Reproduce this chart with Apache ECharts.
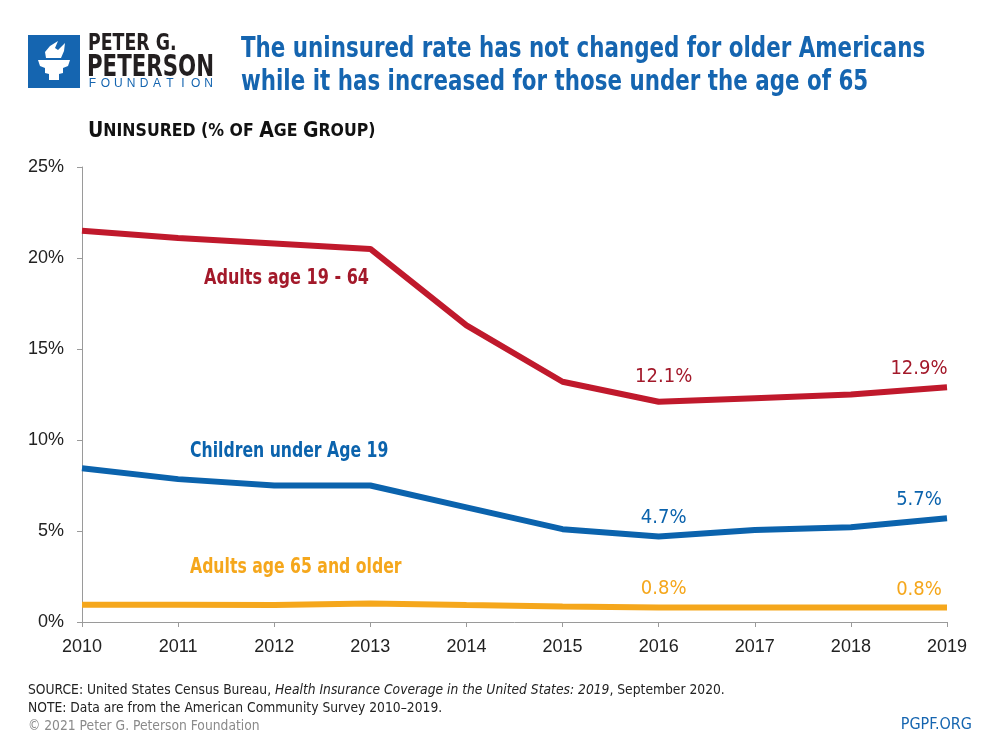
<!DOCTYPE html>
<html><head><meta charset="utf-8">
<script src="https://cdn.jsdelivr.net/npm/echarts@6/dist/echarts.min.js"></script>
<style>html,body{margin:0;padding:0;background:#fff}#c{width:1000px;height:750px}</style>
</head><body><div id="c"></div>
<script>
const years = ['2010','2011','2012','2013','2014','2015','2016','2017','2018','2019'];
const adults1964 = [21.5, 21.1, 20.8, 20.5, 16.3, 13.2, 12.1, 12.3, 12.5, 12.9];
const children = [8.45, 7.85, 7.5, 7.5, 6.3, 5.1, 4.7, 5.05, 5.2, 5.7];
const adults65 = [0.95, 0.95, 0.93, 1.02, 0.93, 0.85, 0.8, 0.8, 0.8, 0.8];
const labelIdx = [6, 9];
const yTicks = [0, 5, 10, 15, 20, 25];

const COND = '"DejaVu Sans Condensed", "Liberation Sans Narrow", sans-serif';
const RED = '#c0192c', RED_T = '#a3192a', BLUE = '#0b63ad', ORANGE = '#f5a71c';

function valueLabel(color) {
  return {
    show: true,
    formatter: p => labelIdx.includes(p.dataIndex) ? p.value.toFixed(1) + '%' : '',
    position: 'top',
    distance: 9,
    color: color,
    fontFamily: COND,
    fontSize: 20,
  };
}
function mkData(arr, midLift) {
  return arr.map((v, i) => {
    if (i === arr.length - 1) return { value: v, label: { offset: [-28, 1] } };
    if (i === labelIdx[0]) return { value: v, label: { offset: [5, -(midLift || 0)] } };
    return v;
  });
}
function lineSeries(name, arr, color, tcolor, midLift) {
  return { name: name, type: 'line', data: mkData(arr, midLift), showSymbol: true, symbol: 'circle', symbolSize: 0,
    lineStyle: { color: color, width: 6 }, itemStyle: { color: color }, label: valueLabel(tcolor),
    emphasis: { disabled: true } };
}
function ctext(x, y, text, fill, font, sx) {
  return { type: 'text', x: x, y: y, scaleX: sx || 1, style: { text: text, fill: fill, font: font, align: 'left', verticalAlign: 'top' } };
}

const foundation = 'FOUNDATION'.split('').map((ch, i) =>
  ({ type: 'text', x: 92.5 + i * 12.9, y: 78, style: { text: ch, fill: '#1565b0', font: '12px "Liberation Sans", sans-serif', align: 'center', verticalAlign: 'top' } }));

const chart = echarts.init(document.getElementById('c'));
chart.setOption({
  animation: false,
  grid: { left: 82, right: 53, top: 167, bottom: 128 },
  xAxis: {
    type: 'category', data: years, boundaryGap: false,
    axisLine: { lineStyle: { color: '#9a9a9a', width: 1 } },
    axisTick: { show: true, length: 5, lineStyle: { color: '#9a9a9a' } },
    axisLabel: { color: '#222', fontSize: 18, fontFamily: '"Liberation Sans", Arial, sans-serif', margin: 16 },
    splitLine: { show: false }
  },
  yAxis: {
    type: 'value', min: yTicks[0], max: yTicks[yTicks.length - 1], interval: 5,
    axisLine: { show: true, lineStyle: { color: '#9a9a9a', width: 1 } },
    axisTick: { show: true, length: 5, lineStyle: { color: '#9a9a9a' } },
    axisLabel: { color: '#222', fontSize: 18, fontFamily: '"Liberation Sans", Arial, sans-serif', margin: 18, formatter: v => v + '%' },
    splitLine: { show: false }
  },
  series: [
    lineSeries('Adults age 19 - 64', adults1964, RED, RED_T, 6),
    lineSeries('Children under Age 19', children, BLUE, BLUE, 0),
    lineSeries('Adults age 65 and older', adults65, ORANGE, ORANGE, 0)
  ],
  graphic: [
    // logo
    { type: 'rect', shape: { x: 28, y: 35, width: 52, height: 53 }, style: { fill: '#1565b0' } },
    { type: 'polygon', shape: { points: [[38,60],[70,60],[68,66],[63,68],[63,73],[59,74],[59,80],[49,80],[49,74],[45,73],[45,68],[40,66]] }, style: { fill: '#fff' } },
    { type: 'polygon', shape: { points: [[46,58],[45,52],[50,46],[58,41],[55,48],[58,50],[65,43],[64,51],[61,58]] }, style: { fill: '#fff' } },
    ctext(88, 33, 'PETER G.', '#231f20', 'bold 23px ' + COND, 0.84),
    ctext(87, 53, 'PETERSON', '#231f20', 'bold 30px ' + COND, 0.79),
    ...foundation,
    // title
    { type: 'text', x: 241, y: 33, scaleX: 0.85, style: { text: 'The uninsured rate has not changed for older Americans\nwhile it has increased for those under the age of 65', fill: '#1565b0', font: 'bold 28px ' + COND, lineHeight: 33, verticalAlign: 'top' } },
    // axis title
    { type: 'text', x: 88, y: 121, style: { verticalAlign: 'top', text: '{b|U}{s|NINSURED (% OF }{b|A}{s|GE }{b|G}{s|ROUP)}', rich: {
      b: { fontSize: 21, fontWeight: 'bold', fontFamily: COND, fill: '#111' },
      s: { fontSize: 17.5, fontWeight: 'bold', fontFamily: COND, fill: '#111' } } } },
    // series names
    ctext(204, 268, 'Adults age 19 - 64', RED_T, 'bold 21px ' + COND, 0.85),
    ctext(190, 441, 'Children under Age 19', BLUE, 'bold 21px ' + COND, 0.83),
    ctext(190, 557, 'Adults age 65 and older', ORANGE, 'bold 21px ' + COND, 0.83),
    // footer
    { type: 'text', x: 28, y: 683, scaleX: 0.98, style: { verticalAlign: 'top', text: '{n|SOURCE: United States Census Bureau, }{i|Health Insurance Coverage in the United States: 2019}{n|, September 2020.}', rich: {
      n: { fontSize: 14, fontFamily: COND, fill: '#222' },
      i: { fontSize: 14, fontFamily: COND, fontStyle: 'italic', fill: '#222' } } } },
    ctext(28, 701, 'NOTE: Data are from the American Community Survey 2010\u20132019.', '#222', '14px ' + COND, 0.98),
    ctext(28, 719, '\u00a9 2021 Peter G. Peterson Foundation', '#8a8a8a', '14px ' + COND, 0.98),
    { type: 'text', right: 28, top: 717, style: { text: 'PGPF.ORG', fill: '#1565b0', font: '16px ' + COND } }
  ]
});
</script>
</body></html>
